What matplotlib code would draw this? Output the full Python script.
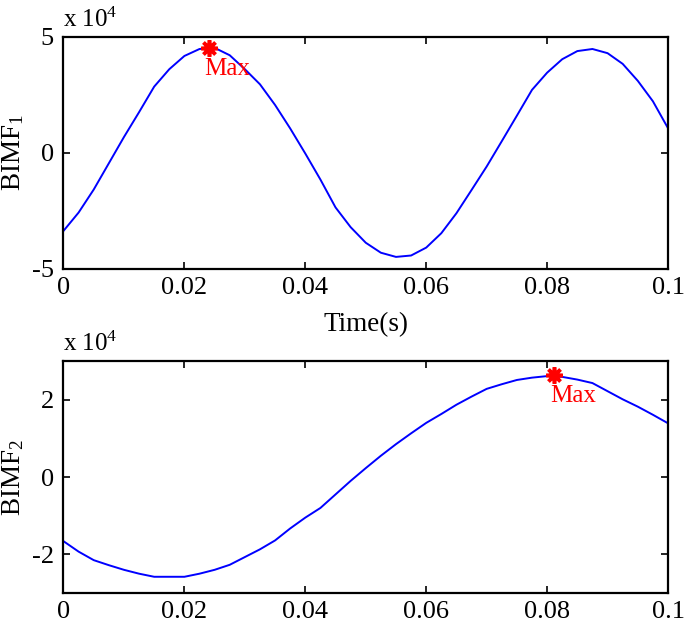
import numpy as np
import matplotlib
matplotlib.use('Agg')
import matplotlib.pyplot as plt

plt.rcParams['font.family'] = ['Liberation Serif', 'DejaVu Serif']
plt.rcParams['mathtext.fontset'] = 'custom'
plt.rcParams['mathtext.rm'] = 'Liberation Serif'
plt.rcParams['mathtext.it'] = 'Liberation Serif'

# time axis (s), sampled every 0.0025 s
t = np.linspace(0, 0.1, 41)

# BIMF1 values (x 10^4)
bimf1 = [-3.36, -2.57, -1.58, -0.45, 0.68, 1.75, 2.85, 3.60, 4.17, 4.47,
         4.52, 4.20, 3.60, 2.95, 2.06, 1.05, -0.03, -1.15, -2.35, -3.20,
         -3.87, -4.30, -4.48, -4.42, -4.08, -3.46, -2.60, -1.60, -0.59, 0.50,
         1.60, 2.71, 3.45, 4.03, 4.38, 4.47, 4.29, 3.83, 3.10, 2.22, 1.06]

# BIMF2 values (x 10^4)
bimf2 = [-1.66, -1.93, -2.15, -2.28, -2.40, -2.50, -2.58, -2.58, -2.58, -2.50,
         -2.40, -2.27, -2.07, -1.87, -1.64, -1.33, -1.05, -0.80, -0.45, -0.10,
         0.23, 0.55, 0.85, 1.13, 1.40, 1.63, 1.87, 2.08, 2.28, 2.40,
         2.51, 2.57, 2.61, 2.59, 2.52, 2.43, 2.22, 2.01, 1.82, 1.61, 1.39]

# maxima markers
max1 = (0.024, 4.50)
max2 = (0.0811, 2.63)

xticks = [0, 0.02, 0.04, 0.06, 0.08, 0.1]
xticklabels = ['0', '0.02', '0.04', '0.06', '0.08', '0.1']

fig = plt.figure(figsize=(6.85, 6.27), dpi=100)
ax1 = fig.add_axes([0.0927, 0.571, 0.8825, 0.3705])
ax2 = fig.add_axes([0.0927, 0.0542, 0.8825, 0.370])

panels = [
    (ax1, bimf1, max1, (-5, 5), [-5, 0, 5], ['-5', '0', '5'], 'BIMF$_1$'),
    (ax2, bimf2, max2, (-3, 3), [-2, 0, 2], ['-2', '0', '2'], 'BIMF$_2$'),
]

for ax, y, mx, ylim, yt, ytl, ylab in panels:
    ax.plot(t, y, color='#0000ff', linewidth=1.4)
    ax.plot(mx[0], mx[1], marker=(8, 2, 0), color='#ff0000',
            markersize=12, markeredgewidth=2.6, linestyle='none')
    ax.annotate('Max', mx, xytext=(-4, -21), textcoords='offset pixels',
                color='#ff0000', fontsize=18, ha='left', va='center')
    ax.set_xlim(0, 0.1)
    ax.set_ylim(*ylim)
    ax.set_xticks(xticks)
    ax.set_xticklabels(xticklabels)
    ax.set_yticks(yt)
    ax.set_yticklabels(ytl)
    ax.tick_params(direction='in', length=5, width=1.2, labelsize=19,
                   top=True, right=True)
    ax.tick_params(axis='x', pad=6)
    ax.tick_params(axis='y', pad=7)
    for s in ax.spines.values():
        s.set_linewidth(1.6)
    ax.set_ylabel(ylab, fontsize=19.5, va='center')
    ax.yaxis.set_label_coords(-0.084, 0.5)
    ax.text(0.0, 1.02, 'x 10$^{4}$', transform=ax.transAxes,
            fontsize=18, ha='left', va='bottom')

ax1.set_xlabel('Time(s)', fontsize=19.5, va='center')
ax1.xaxis.set_label_coords(0.5, -0.241)

fig.savefig('out.png', dpi=100)
